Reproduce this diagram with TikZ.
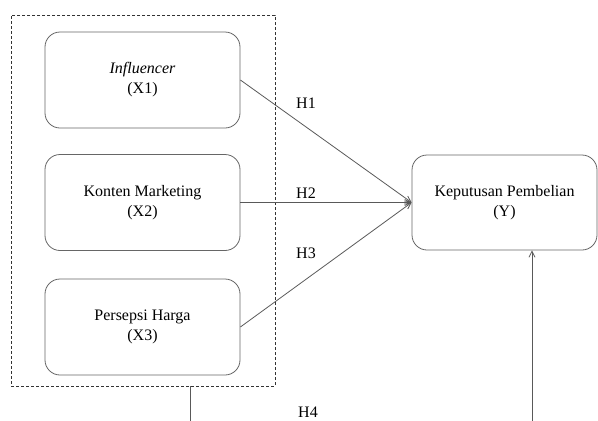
\documentclass[tikz,border=0pt]{standalone}
\usepackage{fontspec}
\setmainfont{Liberation Serif}
\usetikzlibrary{arrows.meta}
\begin{document}
\begin{tikzpicture}[x=1pt,y=-1pt,
  varbox/.style={draw=black!60, line width=0.8pt, rounded corners=15pt, minimum width=195pt, minimum height=96pt, align=center, inner sep=0pt, font=\fontsize{16}{20}\selectfont},
  grpbox/.style={draw=black!80, line width=0.6pt, dash pattern=on 3pt off 2pt, minimum width=264pt, minimum height=371pt, inner sep=0pt},
  conn/.style={draw=black!65, line width=0.8pt},
  arr/.style={conn, -{Straight Barb[length=6pt,width=6pt]}},
  hlab/.style={font=\fontsize{16}{20}\selectfont, inner sep=0pt}
]
\useasboundingbox (0,0) rectangle (598,421);
\node[grpbox] (grp) at (143,200.5) {};
\node[varbox] (x1) at (142.5,80) {\textit{Influencer}\\(X1)};
\node[varbox] (x2) at (142.5,202.5) {Konten Marketing\\(X2)};
\node[varbox] (x3) at (142.5,327) {Persepsi Harga\\(X3)};
\node[varbox, minimum width=185pt, minimum height=95pt] (y) at (504.5,202.5) {Keputusan Pembelian\\(Y)};
\draw[arr] (x1.east) -- (y.west);
\draw[arr] (x2.east) -- (y.west);
\draw[arr] (x3.east) -- (y.west);
\node[hlab] (h1) at (306,103) {H1};
\node[hlab] (h2) at (306,193) {H2};
\node[hlab] (h3) at (306,253) {H3};
\node[hlab] (h4) at (308,412) {H4};
\coordinate (g1) at (190,421);
\coordinate (g2) at (532,421);
\draw[conn] (grp.south -| g1) -- (g1);
\draw[arr] (g2) -- (y.south -| g2);
\end{tikzpicture}
\end{document}
